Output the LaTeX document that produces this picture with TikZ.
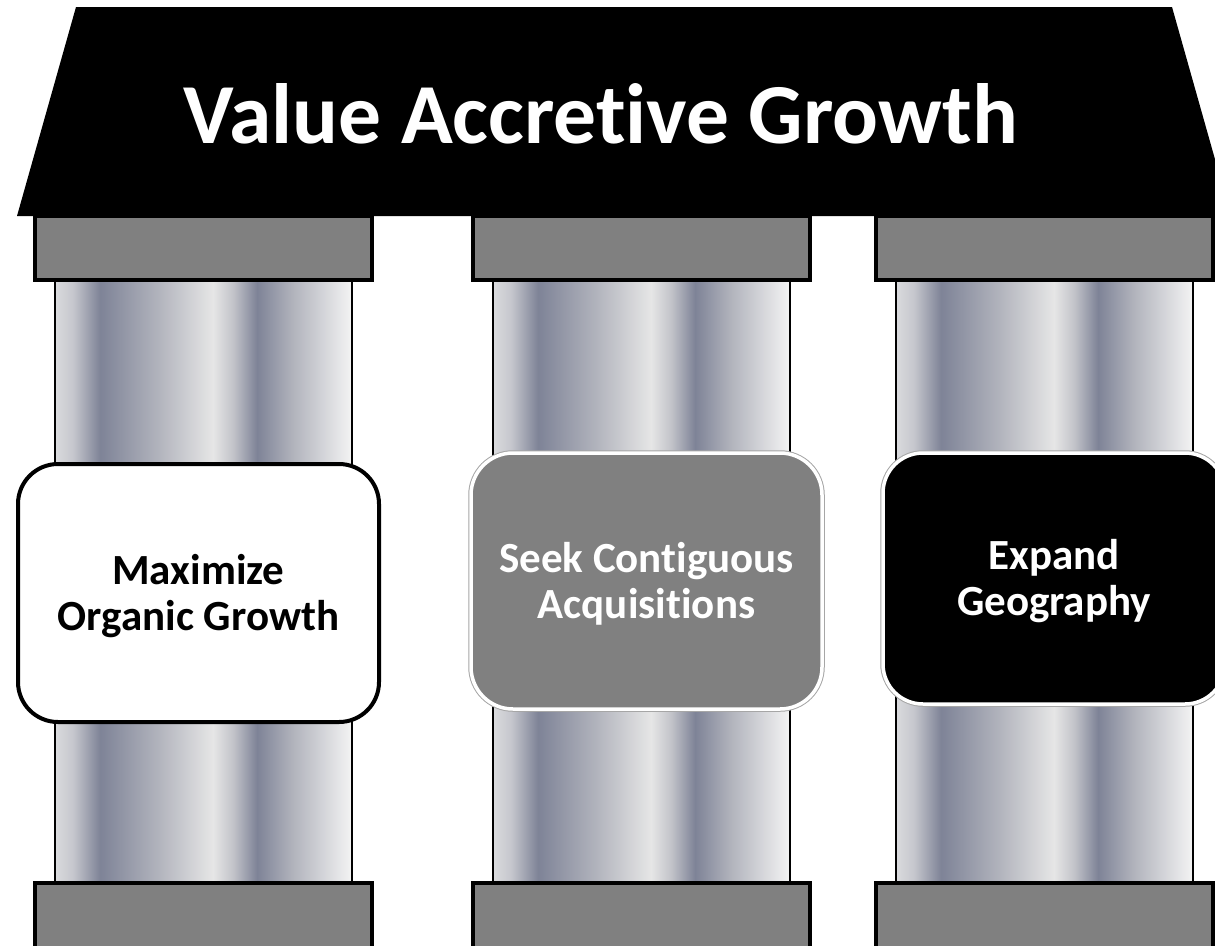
\documentclass[tikz,border=0pt]{standalone}
\usepackage{fontspec}
\setmainfont{Carlito}[Ligatures=NoCommon, RawFeature={-liga;-clig;-calt}]

% palette
\definecolor{capgray}{HTML}{808080}
\definecolor{chA}{HTML}{DADBDE}
\definecolor{chB}{HTML}{C6C7CD}
\definecolor{chC}{HTML}{7E8397}
\definecolor{chD}{HTML}{B2B4BD}
\definecolor{chE}{HTML}{E6E6E6}
\definecolor{chF}{HTML}{C2C3C9}
\definecolor{chG}{HTML}{B1B3BC}
\definecolor{chH}{HTML}{F4F4F4}

% brushed-metal look of the column shafts (25bp..75bp spans the shaft)
\pgfdeclarehorizontalshading{chrome}{100bp}{%
  color(0bp)=(chA); color(25bp)=(chA); color(28bp)=(chB); color(32.6bp)=(chC);
  color(42.5bp)=(chD); color(51.6bp)=(chE); color(55bp)=(chF); color(59bp)=(chC);
  color(65bp)=(chG); color(75bp)=(chH); color(100bp)=(chH)}

\tikzset{
  roof/.style={fill=black},
  shaft/.style={shade, shading=chrome, draw=black, line width=1.5},
  capbox/.style={fill=capgray, draw=black, line width=4},
  titletext/.style={text=white, font=\bfseries\fontsize{85.5}{100}\selectfont, inner sep=0},
  pillarbox/.style={rectangle, rounded corners=40, inner sep=0},
  pillartext/.style={align=center, inner sep=0, font=\bfseries\fontsize{43}{46}\selectfont},
  halo/.style={preaction={draw=black!35, line width=5.5}}
}

\begin{document}
\begin{tikzpicture}[x=1pt, y=-1pt]
  \useasboundingbox (0,0) rectangle (1215,945);
  \clip (0,0) rectangle (1215,945);

  % roof with title
  \fill[roof] (76,7) -- (1172,7) -- (1231,216) -- (17,216) -- cycle;
  \node[titletext, anchor=base] (title) at (601,143) {Value Accretive Growth};

  % three columns: shaft, capital, base
  \foreach \cx in {203.5, 641.5, 1044.5} {
    \path[shaft] (\cx-148.5,280) rectangle (\cx+148.5,883);
    \draw[capbox] (\cx-168.5,216) rectangle (\cx+168.5,280);
    \draw[capbox] (\cx-168.5,883) rectangle (\cx+168.5,965);
  }

  % labelled bands across the columns
  \node[pillarbox, fill=white, draw=black, line width=4,
        minimum width=361, minimum height=258] (organic) at (198.5,593) {};
  \node[pillarbox, halo, fill=capgray, draw=white, line width=3.5,
        minimum width=351, minimum height=256, rounded corners=42] (acquire) at (646.5,581) {};
  \node[pillarbox, halo, fill=black, draw=white, line width=3.5,
        minimum width=342, minimum height=251] (geo) at (1054,578.5) {};

  \node[pillartext, text=black] (organicText) at ([yshift=-3]organic.center) {Maximize\\Organic Growth};
  \node[pillartext, text=white] (acquireText) at ([yshift=-3]acquire.center) {Seek Contiguous\\Acquisitions};
  \node[pillartext, text=white] (geoText) at ([yshift=-3]geo.center) {Expand\\Geography};
\end{tikzpicture}
\end{document}
